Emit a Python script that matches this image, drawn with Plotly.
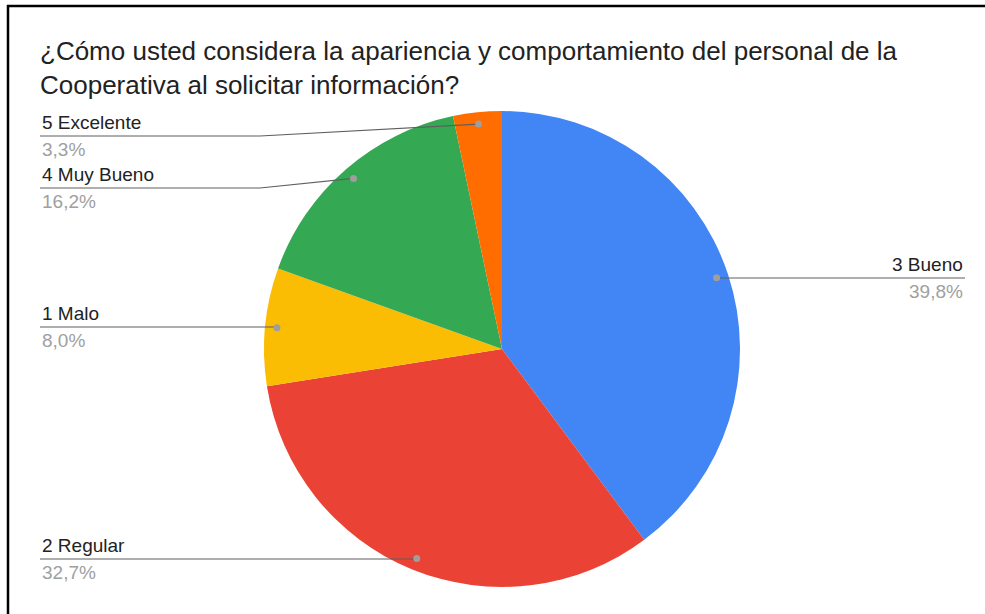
import math
import plotly.graph_objects as go

# Survey answers, in slice order (clockwise from 12 o'clock)
labels = ["3 Bueno", "2 Regular", "1 Malo", "4 Muy Bueno", "5 Excelente"]
values = [39.8, 32.7, 8.0, 16.2, 3.3]
colors = ["#4285F4", "#EA4335", "#FBBC04", "#34A853", "#FF6D01"]

title_text = ("¿Cómo usted considera la apariencia y comportamiento del personal de la<br>"
              "Cooperativa al solicitar información?")

W, H = 985, 614
FONT = "Liberation Sans, Arial, sans-serif"
# pie geometry in pixels
CX, CY, R = 502, 349, 238
DOT_R = 0.95 * R

# callout layout: side, y of the leader line, x where the slanted part starts
callouts = {
    "3 Bueno":     ("right", 278, None),
    "2 Regular":   ("left", 559, None),
    "1 Malo":      ("left", 327, None),
    "4 Muy Bueno": ("left", 188, 260),
    "5 Excelente": ("left", 136, 260),
}
LEFT_X, RIGHT_X = 40, 965

fig = go.Figure()
fig.add_trace(go.Pie(
    labels=labels, values=values, sort=False, direction="clockwise", rotation=0,
    marker=dict(colors=colors, line=dict(width=0)),
    textinfo="none", hoverinfo="label+percent", showlegend=False,
    domain=dict(x=[(CX - R) / W, (CX + R) / W], y=[1 - (CY + R) / H, 1 - (CY - R) / H]),
))

total = sum(values)
cum = 0.0
shapes, annotations = [], []
for lab, val in zip(labels, values):
    mid = (cum + val / 2) / total * 2 * math.pi
    cum += val
    dx = CX + DOT_R * math.sin(mid)
    dy = CY - DOT_R * math.cos(mid)
    side, ly, knee = callouts[lab]
    pct = f"{val:.1f}".replace(".", ",") + "%"
    if side == "left":
        if knee is None:
            path = f"M {LEFT_X} {ly} L {dx} {ly} L {dx} {dy}"
        else:
            path = f"M {LEFT_X} {ly} L {knee} {ly} L {dx} {dy}"
        tx, anchor = LEFT_X, "left"
    else:
        path = f"M {dx} {dy} L {dx} {ly} L {RIGHT_X} {ly}"
        tx, anchor = RIGHT_X, "right"
    shapes.append(dict(type="path", path=path, xref="x", yref="y", layer="above",
                       line=dict(color="#5f5f5f", width=1.2)))
    shapes.append(dict(type="circle", xref="x", yref="y", layer="above",
                       x0=dx - 3.5, x1=dx + 3.5, y0=dy - 3.5, y1=dy + 3.5,
                       fillcolor="#9e9e9e", line=dict(width=0)))
    annotations.append(dict(x=tx, y=ly - 1, xref="x", yref="y", text=lab, showarrow=False,
                            xanchor=anchor, yanchor="bottom",
                            font=dict(family=FONT, size=19, color="#222222")))
    annotations.append(dict(x=tx, y=ly + 1, xref="x", yref="y", text=pct, showarrow=False,
                            xanchor=anchor, yanchor="top",
                            font=dict(family=FONT, size=19, color="#a0a0a0")))

# frame lines at top and left
shapes.append(dict(type="line", xref="x", yref="y", x0=7, x1=W, y0=6, y1=6,
                   line=dict(color="black", width=2.5)))
shapes.append(dict(type="line", xref="x", yref="y", x0=8, x1=8, y0=5, y1=H,
                   line=dict(color="black", width=2.5)))

annotations.append(dict(x=38, y=34, xref="x", yref="y", text=title_text, showarrow=False,
                        xanchor="left", yanchor="top", align="left",
                        font=dict(family=FONT, size=26, color="#222222")))

fig.update_layout(
    width=W, height=H, margin=dict(l=0, r=0, t=0, b=0),
    paper_bgcolor="white", plot_bgcolor="rgba(0,0,0,0)",
    xaxis=dict(range=[0, W], visible=False, fixedrange=True),
    yaxis=dict(range=[H, 0], visible=False, fixedrange=True),
    shapes=shapes, annotations=annotations,
)
fig.write_html("out.html")
